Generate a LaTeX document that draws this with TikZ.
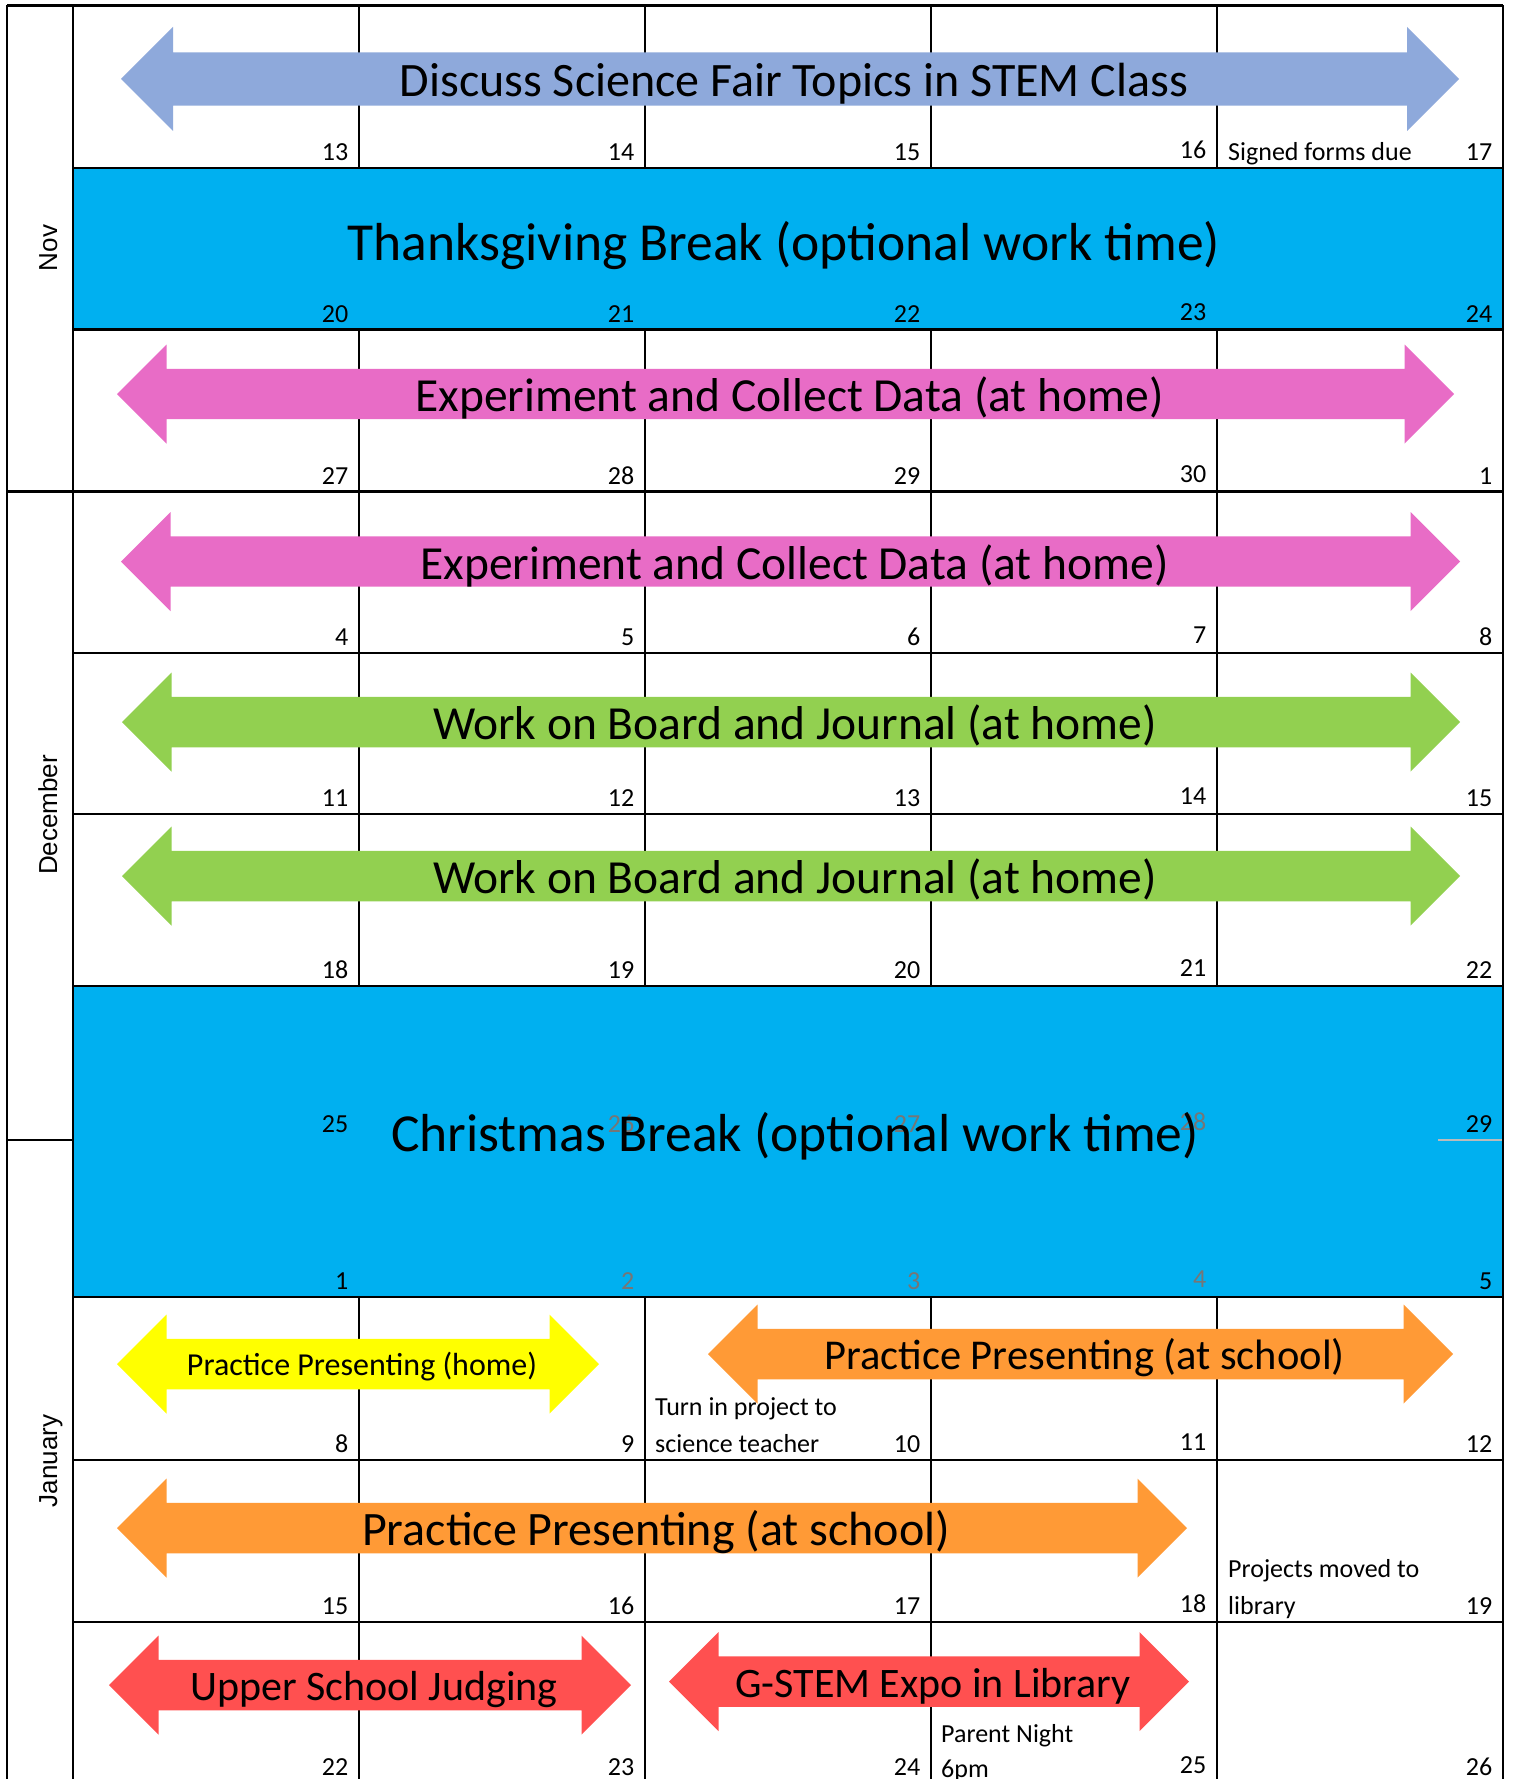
\documentclass[tikz,border=0pt]{standalone}
\usepackage{fontspec}
\setmainfont{Carlito}
\newfontfamily\monthfont{Liberation Sans}
\definecolor{arrblue}{HTML}{8EA9DB}
\definecolor{brkblue}{HTML}{00B0F0}
\definecolor{arrpink}{HTML}{E86CC6}
\definecolor{arrgreen}{HTML}{92D050}
\definecolor{arryellow}{HTML}{FFFF00}
\definecolor{arrorange}{HTML}{FF9A36}
\definecolor{arrred}{HTML}{FF5050}
\definecolor{daygray}{HTML}{767676}
\definecolor{remgray}{HTML}{BBBBBB}
\tikzset{
  gridv/.style={line width=2.2pt,black},
  gridh/.style={line width=2.8pt,black},
  daynum/.style={anchor=base east,inner sep=0pt,font=\fontsize{26}{31}\selectfont},
  notetext/.style={anchor=base west,inner sep=0pt,font=\fontsize{26}{31}\selectfont},
  monthlabel/.style={anchor=base,inner sep=0pt,rotate=90,font=\monthfont\fontsize{26}{31}\selectfont},
  bigtext/.style={anchor=base,inner sep=0pt}
}
% #1 name, #2 left tip x, #3 right tip x, #4 centre y, #5 colour, #6 font size, #7 text, #8 head size
\newcommand\blockarrow[8]{%
  \fill[#5] (#2,#4) -- (#2+#8,#4-#8) -- (#2+#8,#4-0.51*#8) -- (#3-#8,#4-0.51*#8)
    -- (#3-#8,#4-#8) -- (#3,#4) -- (#3-#8,#4+#8) -- (#3-#8,#4+0.51*#8)
    -- (#2+#8,#4+0.51*#8) -- (#2+#8,#4+#8) -- cycle;
  \node[bigtext,font=\fontsize{#6}{#6}\selectfont] (#1) at ({(#2+#3)/2+4},{#4+0.37*#6}) {#7};
}
\newcommand\daysrow[7]{%
  \node[daynum] (#1-1) at (348.5,#2) {#3};
  \node[daynum] (#1-2) at (634.5,#2) {#4};
  \node[daynum] (#1-3) at (920.5,#2) {#5};
  \node[daynum] (#1-4) at (1206.5,#2-2) {#6};
  \node[daynum] (#1-5) at (1492.5,#2) {#7};
}
\begin{document}
\begin{tikzpicture}[x=1pt,y=-1pt]
\useasboundingbox[fill=white] (0,0) rectangle (1513,1779);
% inner vertical lines
\foreach \cx in {359,645,931,1217}{\draw[gridv] (\cx,5.5) -- (\cx,1779);}
% break blocks
\fill[brkblue] (73,168) rectangle (1503,329.5);
\fill[brkblue] (73,986) rectangle (1503,1297);
% horizontal lines
\draw[gridh] (7,5.5) -- (1503,5.5);
\foreach \ry in {168,329.5,491.5,653,814,986,1297,1460,1622}{\draw[gridh] (73,\ry) -- (1503,\ry);}
% outer verticals
\draw[gridv] (7,5.5) -- (7,1779);
\draw[gridv] (73,5.5) -- (73,1779);
\draw[gridv] (1503,5.5) -- (1503,1779);
% month separators
\draw[gridh] (7,491.5) -- (73,491.5);
\draw[gridh] (7,1140) -- (73,1140);
\draw[line width=2pt,remgray] (1438,1140) -- (1502,1140);
% month labels
\node[monthlabel] (mnov) at (57,248) {Nov};
\node[monthlabel] (mdec) at (57,815) {December};
\node[monthlabel] (mjan) at (57,1461) {January};
% day numbers
\daysrow{w1}{160.5}{13}{14}{15}{16}{17}
\daysrow{w2}{322}{20}{21}{22}{23}{24}
\daysrow{w3}{484}{27}{28}{29}{30}{1}
\daysrow{w4}{645.5}{4}{5}{6}{7}{8}
\daysrow{w5}{806.5}{11}{12}{13}{14}{15}
\daysrow{w6}{978.5}{18}{19}{20}{21}{22}
\daysrow{w7}{1132.5}{25}{\textcolor{daygray}{26}}{\textcolor{daygray}{27}}{\textcolor{daygray}{28}}{29}
\daysrow{w8}{1289.5}{1}{\textcolor{daygray}{2}}{\textcolor{daygray}{3}}{\textcolor{daygray}{4}}{5}
\daysrow{w9}{1452.5}{8}{9}{10}{11}{12}
\daysrow{w10}{1614.5}{15}{16}{17}{18}{19}
\daysrow{w11}{1775.5}{22}{23}{24}{25}{26}
% notes
\node[notetext] (n1) at (1228,160.5) {Signed forms due};
\node[notetext] (n2a) at (655,1415.5) {Turn in project to};
\node[notetext] (n2b) at (655,1452.5) {science teacher};
\node[notetext] (n3a) at (1228,1577.5) {Projects moved to};
\node[notetext] (n3b) at (1228,1614.5) {library};
\node[notetext] (n4a) at (941,1742) {Parent Night};
\node[notetext] (n4b) at (941,1777) {6pm};
% break texts
\node[bigtext,font=\fontsize{53.5}{53.5}\selectfont] (thanks) at (784,261) {Thanksgiving Break (optional work time)};
\node[bigtext,font=\fontsize{53.5}{53.5}\selectfont] (xmas) at (795,1151) {Christmas Break (optional work time)};
% arrows
\blockarrow{discuss}{121}{1459}{79}{arrblue}{48}{Discuss Science Fair Topics in STEM Class}{52}
\blockarrow{expa}{117}{1454}{394}{arrpink}{47.5}{Experiment and Collect Data (at home)}{49.5}
\blockarrow{expb}{121}{1460}{561.5}{arrpink}{47.5}{Experiment and Collect Data (at home)}{49.5}
\blockarrow{worka}{122}{1460}{722}{arrgreen}{47.5}{Work on Board and Journal (at home)}{49.5}
\blockarrow{workb}{122}{1460}{876}{arrgreen}{47.5}{Work on Board and Journal (at home)}{49.5}
\blockarrow{prachome}{117}{599}{1364}{arryellow}{32}{Practice Presenting (home)}{49.5}
\blockarrow{pracschoola}{708}{1453}{1354}{arrorange}{42.5}{Practice Presenting (at school)}{49.5}
\blockarrow{pracschoolb}{117}{1187}{1528}{arrorange}{48}{Practice Presenting (at school)}{49.5}
\blockarrow{judging}{109}{631}{1685}{arrred}{42}{Upper School Judging}{49.5}
\blockarrow{expo}{669}{1189}{1681.5}{arrred}{42}{G-STEM Expo in Library}{49.5}
\end{tikzpicture}
\end{document}
